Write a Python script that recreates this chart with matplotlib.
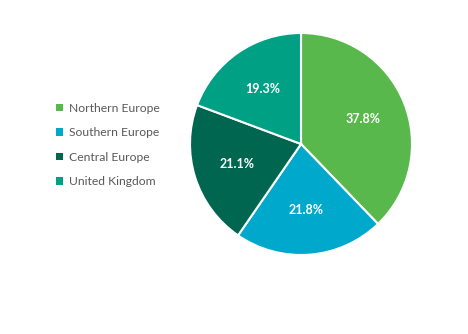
import matplotlib
matplotlib.use('Agg')
import matplotlib.pyplot as plt
from matplotlib.patches import Patch

plt.rcParams['font.family'] = ['Lato', 'DejaVu Sans']

regions = ['Northern Europe', 'Southern Europe', 'Central Europe', 'United Kingdom']
shares = [37.8, 21.8, 21.1, 19.3]
colors = ['#58B84C', '#00A8CC', '#00664F', '#00A085']

fig = plt.figure(figsize=(4.68, 3.34), dpi=100)
ax = fig.add_axes([190 / 468, 1 - 255 / 334, 222 / 468, 222 / 334])

wedges, texts, autotexts = ax.pie(
    shares, colors=colors, startangle=90, counterclock=False,
    autopct='%.1f%%', pctdistance=0.6,
    wedgeprops=dict(edgecolor='white', linewidth=1.5),
    textprops=dict(color='white', fontsize=9, fontweight='bold'))
ax.set_xlim(-1, 1)
ax.set_ylim(-1, 1)
ax.set_aspect('equal')

handles = [Patch(facecolor=c, edgecolor='none') for c in colors]
fig.legend(handles, regions, loc='center left', bbox_to_anchor=(45 / 468, 1 - 145 / 334),
           frameon=False, fontsize=8.7, labelcolor='#595959',
           handlelength=0.6, handleheight=0.6, handletextpad=0.5, labelspacing=1.12)

fig.savefig('out.png', dpi=100)
